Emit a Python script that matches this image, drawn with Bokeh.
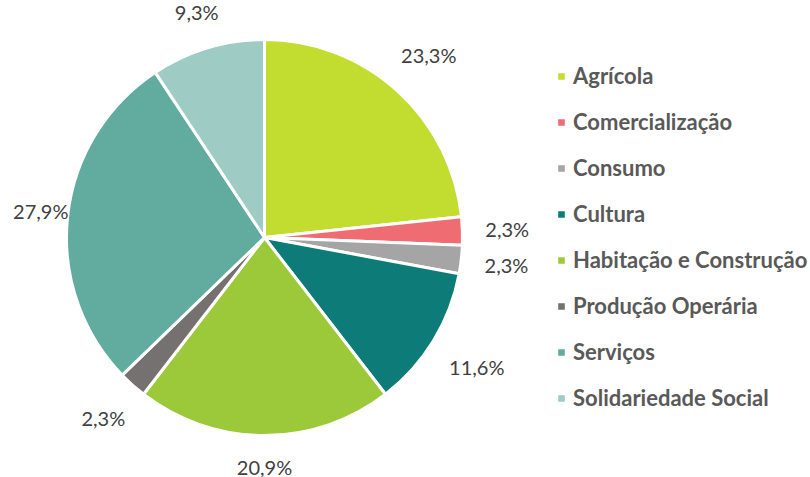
import math
from bokeh.plotting import figure
from bokeh.models import ColumnDataSource, Range1d, Legend, LegendItem
from bokeh.core.properties import value
from bokeh.embed import file_html
from bokeh.resources import INLINE

# ---- data ----
categories = ["Agrícola", "Comercialização", "Consumo", "Cultura",
              "Habitação e Construção", "Produção Operária", "Serviços",
              "Solidariedade Social"]
shares = [23.3, 2.3, 2.3, 11.6, 20.9, 2.3, 27.9, 9.3]
colors = ["#C2DD2F", "#EF6C72", "#A5A5A5", "#0D7B78",
          "#9BC93A", "#767171", "#62AC9F", "#9ECBC3"]

W, H = 810, 477
cx, cy, R = 264, H - 237, 198
gap = 22          # distance between pie edge and label box
char_w, half_h = 11.3, 9
edge = 12         # keep labels inside the chart area

total = sum(shares)
starts, ends, lx, ly, texts = [], [], [], [], []
cum = 0.0
for v in shares:
    a0 = math.pi / 2 - 2 * math.pi * cum / total
    cum += v
    a1 = math.pi / 2 - 2 * math.pi * cum / total
    starts.append(a0)
    ends.append(a1)
    mid = (a0 + a1) / 2
    t = f"{v:.1f}".replace(".", ",") + "%"
    half_w = char_w * len(t) / 2
    d = R + gap + half_w * abs(math.cos(mid)) + half_h * abs(math.sin(mid))
    x = cx + d * math.cos(mid)
    y = cy + d * math.sin(mid)
    x = min(max(x, half_w + edge), W - half_w - edge)
    y = min(max(y, half_h + 2), H - half_h - 2)
    lx.append(x)
    ly.append(y)
    texts.append(t)

src = ColumnDataSource(dict(cat=categories, start=starts, end=ends,
                            color=colors, lx=lx, ly=ly, txt=texts))

p = figure(width=W, height=H, output_backend="svg", toolbar_location=None,
           x_range=Range1d(0, W), y_range=Range1d(0, H),
           x_axis_type=None, y_axis_type=None, min_border=0)
p.grid.visible = False
p.outline_line_color = None
p.background_fill_color = "white"

r = p.wedge(x=cx, y=cy, radius=R, start_angle="start", end_angle="end",
            direction="clock", fill_color="color", line_color="white",
            line_width=3, source=src)

p.text(x="lx", y="ly", text="txt", source=src, text_align="center",
       text_baseline="middle", text_font=value("Lato"),
       text_font_size="20px", text_color="#404040")

items = [LegendItem(label=c, renderers=[r], index=i)
         for i, c in enumerate(categories)]
legend = Legend(items=items, location=(555, 66),
                label_text_font="Lato", label_text_font_style="bold",
                label_text_font_size="22px", label_text_color="#595959",
                glyph_width=12, glyph_height=12, label_height=27,
                label_standoff=6, spacing=19, padding=0, margin=0,
                border_line_color=None, background_fill_alpha=0)
p.add_layout(legend)

open("out.html", "w").write(file_html(p, INLINE))
